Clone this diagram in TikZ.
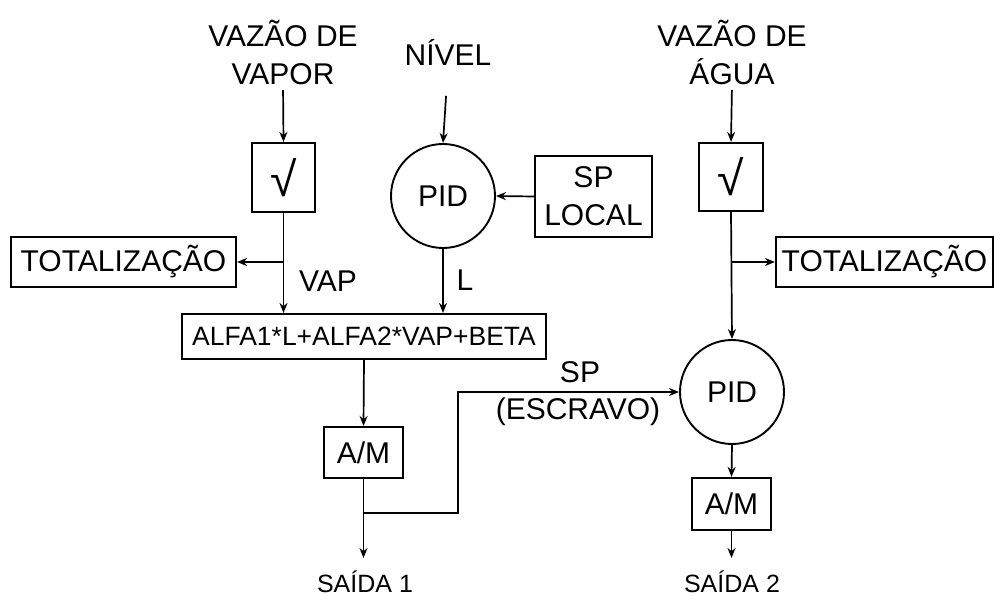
\documentclass[tikz,border=0pt]{standalone}
\usepackage{fontspec}
\setmainfont{Liberation Sans}
\usetikzlibrary{arrows.meta}

\begin{document}
\begin{tikzpicture}[
    x=1pt, y=-1pt,
    >={Stealth[length=10pt,width=8pt]},
    line width=1.7pt,
    every node/.style={font=\fontsize{30}{38}\selectfont, inner sep=0pt, align=center},
    blk/.style={rectangle, draw, line width=2.1pt},
    ctl/.style={circle, draw, line width=1.9pt, minimum size=104pt},
    outlbl/.style={font=\fontsize{25}{28}\selectfont}
]
  \useasboundingbox (0,0) rectangle (996,596);

  % inputs
  \node (vapor) at (283,52)  {VAZÃO DE\\VAPOR};
  \node (nivel) at (448,52)  {NÍVEL};
  \node (agua)  at (732,52)  {VAZÃO DE\\ÁGUA};

  % blocks
  \node[blk, minimum width=63pt, minimum height=69pt] (raiz1) at (283.5,177.5) {\fontsize{48}{48}\selectfont √};
  \node[ctl] (pid1) at (443,196) {PID};
  \node[blk, minimum width=117pt, minimum height=81pt] (sploc) at (593.5,196.5) {SP\\LOCAL};
  \node[blk, minimum width=225pt, minimum height=50pt] (tot1) at (123.5,262) {TOTALIZAÇÃO};
  \node[blk, minimum width=364pt, minimum height=45pt] (alfa) at (364,336.5)
    {\fontsize{26.5}{30}\selectfont ALFA1*L+ALFA2*VAP+BETA};
  \node[blk, minimum width=79pt, minimum height=51pt] (am1) at (363.5,452.5) {A/M};

  \node[blk, minimum width=64pt, minimum height=68pt] (raiz2) at (731,177) {\fontsize{48}{48}\selectfont √};
  \node[blk, minimum width=217pt, minimum height=50pt] (tot2) at (884.5,262) {TOTALIZAÇÃO};
  \node[ctl] (pid2) at (732,392) {PID};
  \node[blk, minimum width=79pt, minimum height=52pt] (am2) at (731.5,504) {A/M};

  % labels
  \node (vap) at (328,281) {VAP};
  \node (lbl) at (465,280) {L};
  \node (sp)  at (580,372) {SP};
  \node (esc) at (578,412) {(ESCRAVO)};
  \node[outlbl] (saida1) at (365,582) {SAÍDA 1};
  \node[outlbl] (saida2) at (732,582) {SAÍDA 2};

  \coordinate (j1) at (raiz1.south |- tot1.east);
  \coordinate (j2) at (raiz2.south |- tot2.west);
  \coordinate (j3) at (363.5,513);
  \coordinate (o1) at (363.5,558);
  \coordinate (o2) at (731.5,558);

  % edges
  \draw[->, shorten <=5pt]  (vapor.south) -- (raiz1.north);
  \draw[->, shorten <=30pt] (nivel.south) -- (pid1.north);
  \draw[->, shorten <=5pt]  (agua.south) -- (raiz2.north);
  \draw[->] (sploc.west) -- (pid1.east);
  \draw[->] (raiz1.south) -- (raiz1.south |- alfa.north);
  \draw[->] (j1) -- (tot1.east);
  \draw[->] (pid1.south) -- (pid1.south |- alfa.north);
  \draw[->] (alfa.south) -- (am1.north);
  \draw[->] (am1.south) -- (o1);
  \draw[->] (j3) -- ++(94.5,0) |- (pid2.west);
  \draw[->] (raiz2.south) -- (pid2.north);
  \draw[->] (j2) -- (tot2.west);
  \draw[->] (pid2.south) -- (am2.north);
  \draw[->] (am2.south) -- (o2);
\end{tikzpicture}
\end{document}
